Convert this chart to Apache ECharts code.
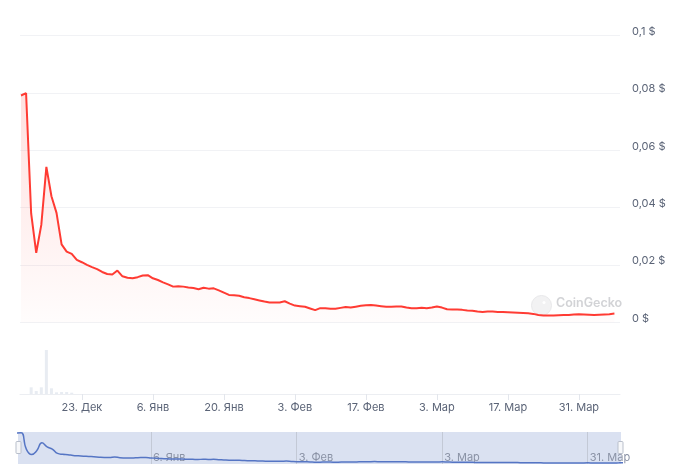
<!DOCTYPE html>
<html>
<head>
<meta charset="utf-8">
<script src="https://cdn.jsdelivr.net/npm/echarts@6/dist/echarts.min.js"></script>
<style>
  html, body { margin: 0; padding: 0; background: #ffffff; }
  #chart { width: 682px; height: 466px; }
</style>
</head>
<body>
<div id="chart"></div>
<script>
// ---- Data (daily, starting 11 Dec 2024) ----
const startDay = '2024-12-11';
const prices = [
  0.0791, 0.0799, 0.0380, 0.0243, 0.0340, 0.0542, 0.0440, 0.0382, 0.0272, 0.0247,
  0.0239, 0.0218, 0.0210, 0.0201, 0.0193, 0.0186, 0.0176, 0.0169, 0.0167, 0.0181,
  0.0161, 0.0156, 0.0154, 0.0158, 0.0164, 0.0165, 0.0154, 0.0148, 0.0140, 0.0133,
  0.0125, 0.0126, 0.0125, 0.0122, 0.0120, 0.0116, 0.0121, 0.0118, 0.0119, 0.0112,
  0.0104, 0.0096, 0.0095, 0.0093, 0.0088, 0.0085, 0.0081, 0.0077, 0.0073, 0.0070,
  0.0070, 0.0070, 0.0074, 0.0066, 0.0059, 0.0057, 0.0055, 0.0049, 0.0043, 0.0050,
  0.0050, 0.0048, 0.0048, 0.0051, 0.0054, 0.0052, 0.0055, 0.0058, 0.0060, 0.0061,
  0.0059, 0.0057, 0.0055, 0.0055, 0.0056, 0.0056, 0.0052, 0.0050, 0.0050, 0.0051,
  0.0050, 0.0052, 0.0056, 0.0052, 0.0046, 0.0045, 0.0045, 0.0044, 0.0042, 0.0041,
  0.0038, 0.0037, 0.0038, 0.0038, 0.0037, 0.0037, 0.0036, 0.0035, 0.0034, 0.0033,
  0.0032, 0.0030, 0.0026, 0.0024, 0.0024, 0.0024, 0.0025, 0.0026, 0.0026, 0.0028,
  0.0029, 0.0028, 0.0027, 0.0026, 0.0027, 0.0028, 0.0029, 0.0031
];
const volumes = [
  0, 0, 6.7, 3.0, 6.7, 44, 5.7, 1.7, 2.0, 2.0, 1.3
];
const axisTickDates = ['2024-12-23', '2025-01-06', '2025-01-20', '2025-02-03', '2025-02-17', '2025-03-03', '2025-03-17', '2025-03-31'];
const navTickDates = ['2025-01-06', '2025-02-03', '2025-03-03', '2025-03-31'];
const priceTicks = [0, 0.02, 0.04, 0.06, 0.08, 0.1];
const monthNames = ['Янв', 'Фев', 'Мар', 'Апр', 'Май', 'Июн', 'Июл', 'Авг', 'Сен', 'Окт', 'Ноя', 'Дек'];

// ---- Derived ----
const DAY = 86400000;
const t0 = Date.parse(startDay + 'T00:00:00Z');
const dates = prices.map((_, i) => t0 + i * DAY);
const priceData = prices.map((v, i) => [dates[i], v]);
const volumeData = volumes.map((v, i) => [dates[i], v]);
const tickMs = axisTickDates.map(d => Date.parse(d + 'T00:00:00Z'));
const navTickMs = navTickDates.map(d => Date.parse(d + 'T00:00:00Z'));

const mainMin = t0 - 0.2 * DAY;
const mainMax = t0 + 118.1 * DAY;
const navMin = t0 + 0.4 * DAY;
const navMax = t0 + 116.4 * DAY;

function dateLabel(v) {
  const d = new Date(v);
  return d.getUTCDate() + '. ' + monthNames[d.getUTCMonth()];
}
function priceLabel(v) {
  if (v === 0) return '0 $';
  return String(+v.toFixed(2)).replace('.', ',') + ' $';
}

const FONT = 'Inter, "Noto Sans", sans-serif';
const chart = echarts.init(document.getElementById('chart'), null, { renderer: 'canvas' });

chart.setOption({
  animation: false,
  backgroundColor: '#ffffff',
  textStyle: { fontFamily: FONT },
  grid: [
    { left: 20, right: 62, top: 35.5, height: 287 },
    { left: 20, right: 62, top: 345, height: 49 },
    { left: 18, right: 61, top: 432, height: 32, show: true, backgroundColor: '#dae1f1', borderWidth: 0 }
  ],
  xAxis: [
    {
      type: 'value', gridIndex: 0, min: mainMin, max: mainMax,
      axisLine: { show: false }, axisTick: { show: false }, axisLabel: { show: false }, splitLine: { show: false }
    },
    {
      type: 'value', gridIndex: 1, min: mainMin, max: mainMax,
      axisLine: { show: true, lineStyle: { color: '#eceef2', width: 1 } },
      axisTick: { show: true, customValues: tickMs, length: 6, lineStyle: { color: '#e3e6ec' } },
      axisLabel: {
        show: true, customValues: tickMs, formatter: dateLabel,
        color: '#5b6477', fontSize: 11, margin: 8, fontFamily: FONT
      },
      splitLine: { show: false }
    },
    {
      type: 'value', gridIndex: 2, min: navMin, max: navMax,
      axisLine: { show: false },
      axisTick: { show: false, customValues: navTickMs },
      axisLabel: {
        show: true, inside: true, customValues: navTickMs, formatter: dateLabel,
        color: '#8a92a5', fontSize: 11, margin: 1, align: 'left', verticalAlign: 'bottom',
        padding: [0, 0, 0, 2], fontFamily: FONT
      },
      splitLine: { show: true, lineStyle: { color: '#c3c9d6', width: 1 } }
    }
  ],
  yAxis: [
    {
      type: 'value', gridIndex: 0, position: 'right', min: 0, max: 0.1, interval: 0.02,
      axisLine: { show: false }, axisTick: { show: false },
      axisLabel: {
        color: '#5b6477', fontSize: 11, margin: 12, formatter: priceLabel, fontFamily: FONT,
        verticalAlign: 'bottom', lineHeight: 8
      },
      splitLine: { show: true, lineStyle: { color: '#f1f2f5', width: 1 } }
    },
    {
      type: 'value', gridIndex: 1, min: 0, max: 49,
      axisLine: { show: false }, axisTick: { show: false }, axisLabel: { show: false }, splitLine: { show: false }
    },
    {
      type: 'value', gridIndex: 2, min: 0, max: 0.082,
      axisLine: { show: false }, axisTick: { show: false }, axisLabel: { show: false }, splitLine: { show: false }
    }
  ],
  series: [
    {
      type: 'line', xAxisIndex: 0, yAxisIndex: 0, data: priceData,
      showSymbol: false, symbol: 'none', z: 5,
      lineStyle: { color: '#ff3b33', width: 2 },
      areaStyle: {
        color: new echarts.graphic.LinearGradient(0, 0, 0, 1, [
          { offset: 0, color: 'rgba(255, 59, 51, 0.22)' },
          { offset: 1, color: 'rgba(255, 59, 51, 0.02)' }
        ])
      }
    },
    {
      type: 'bar', xAxisIndex: 1, yAxisIndex: 1, data: volumeData,
      barWidth: 3, itemStyle: { color: '#e8ecf2' }
    },
    {
      type: 'line', xAxisIndex: 2, yAxisIndex: 2, data: priceData,
      showSymbol: false, symbol: 'none', smooth: true, z: 5,
      lineStyle: { color: '#5575c4', width: 1.5 }
    }
  ],
  graphic: [
    {
      type: 'group', left: 531, top: 295, z: 0, silent: true,
      children: [
        { type: 'circle', shape: { cx: 10.5, cy: 10, r: 10 }, style: { fill: '#f2f2f3', stroke: '#e8e8ea', lineWidth: 1 } },
        { type: 'circle', shape: { cx: 13, cy: 7, r: 1.5 }, style: { fill: '#ffffff' } }
      ]
    },
    {
      type: 'text', left: 556, top: 297, z: 0, silent: true,
      style: { text: 'CoinGecko', fill: '#d2d3d6', fontSize: 12.5, fontWeight: 600, fontFamily: FONT }
    },
    {
      type: 'rect', left: 15.5, top: 441, z: 20, silent: true,
      shape: { width: 5, height: 12, r: 1 },
      style: { fill: '#f7f8fa', stroke: '#b9bfcb', lineWidth: 1 }
    },
    {
      type: 'rect', left: 617.5, top: 441, z: 20, silent: true,
      shape: { width: 5, height: 12, r: 1 },
      style: { fill: '#f7f8fa', stroke: '#b9bfcb', lineWidth: 1 }
    }
  ]
});
</script>
</body>
</html>
